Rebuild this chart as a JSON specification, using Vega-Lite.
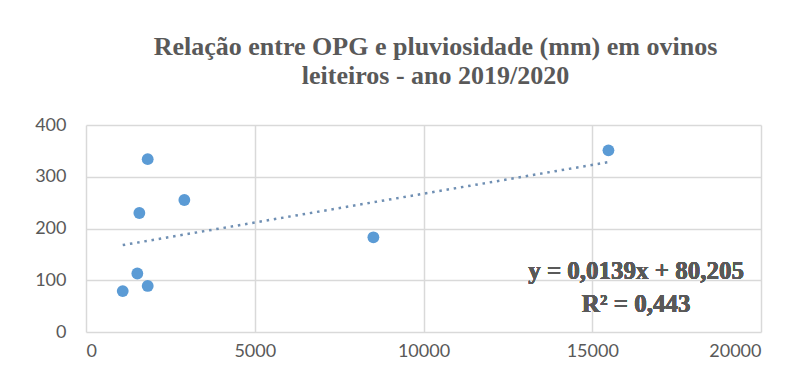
{
  "$schema": "https://vega.github.io/schema/vega-lite/v6.json",
  "autosize": "none",
  "width": 675,
  "height": 207,
  "padding": {"left": 86, "top": 125, "right": 47, "bottom": 57},
  "background": "#ffffff",
  "title": {
    "text": ["Relação entre OPG e pluviosidade  (mm) em ovinos", "leiteiros  - ano 2019/2020"],
    "font": "Liberation Serif",
    "fontSize": 26,
    "fontWeight": "bold",
    "color": "#595959",
    "lineHeight": 29,
    "anchor": "middle",
    "dx": 12,
    "offset": 27
  },
  "config": {
    "view": {"stroke": null},
    "axis": {
      "labelFont": "Lato",
      "labelFontSize": 18,
      "labelColor": "#595959",
      "gridColor": "#d9d9d9",
      "gridWidth": 1.5,
      "domain": false,
      "ticks": false,
      "title": null
    }
  },
  "data": {
    "values": [
      {"pluviosidade": 1088, "opg": 79},
      {"pluviosidade": 1521, "opg": 113},
      {"pluviosidade": 1828, "opg": 89},
      {"pluviosidade": 1581, "opg": 230},
      {"pluviosidade": 1828, "opg": 334},
      {"pluviosidade": 2914, "opg": 255},
      {"pluviosidade": 8515, "opg": 183},
      {"pluviosidade": 15480, "opg": 351}
    ]
  },
  "layer": [
    {
      "mark": {"type": "point", "filled": true, "size": 140, "color": "#5B9BD5", "opacity": 1},
      "encoding": {
        "x": {
          "field": "pluviosidade", "type": "quantitative",
          "scale": {"domain": [0, 20000], "nice": false},
          "axis": {"values": [0, 5000, 10000, 15000, 20000], "format": "d", "labelPadding": 10}
        },
        "y": {
          "field": "opg", "type": "quantitative",
          "scale": {"domain": [0, 400], "nice": false},
          "axis": {"values": [0, 100, 200, 300, 400], "labelPadding": 20}
        }
      }
    },
    {
      "transform": [{"regression": "opg", "on": "pluviosidade"}],
      "mark": {"type": "line", "color": "#6f8fb3", "strokeWidth": 2.5, "strokeDash": [2.5, 4.8]},
      "encoding": {
        "x": {"field": "pluviosidade", "type": "quantitative"},
        "y": {"field": "opg", "type": "quantitative"}
      }
    },
    {
      "mark": {"type": "text", "font": "Liberation Serif", "fontSize": 25, "fontWeight": "bold", "color": "#595959", "align": "center", "baseline": "middle"},
      "encoding": {
        "x": {"datum": 16300, "type": "quantitative"},
        "y": {"datum": 117, "type": "quantitative"},
        "text": {"value": "y = 0,0139x + 80,205"}
      }
    },
    {
      "mark": {"type": "text", "font": "Liberation Serif", "fontSize": 25, "fontWeight": "bold", "color": "#595959", "align": "center", "baseline": "middle"},
      "encoding": {
        "x": {"datum": 16300, "type": "quantitative"},
        "y": {"datum": 55, "type": "quantitative"},
        "text": {"value": "R² = 0,443"}
      }
    }
  ]
}
